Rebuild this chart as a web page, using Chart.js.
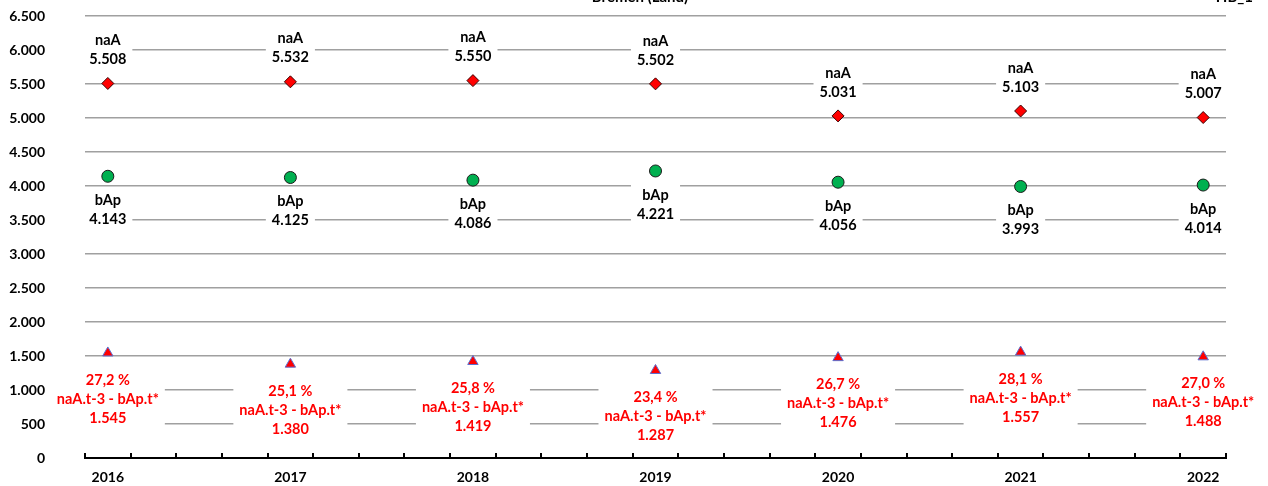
<!DOCTYPE html>
<html>
<head>
<meta charset="utf-8">
<script src="https://cdn.jsdelivr.net/npm/chart.js@4"></script>
<style>
  html, body { margin: 0; padding: 0; background: #fff; }
  #wrap { width: 1268px; height: 486px; position: relative; overflow: hidden; }
</style>
</head>
<body>
<div id="wrap"><canvas id="chart" width="1268" height="486"></canvas></div>
<script>
// Data
const years = [2016, 2017, 2018, 2019, 2020, 2021, 2022];
const naA = [5508, 5532, 5550, 5502, 5031, 5103, 5007];
const bAp = [4143, 4125, 4086, 4221, 4056, 3993, 4014];
const diff = [1545, 1380, 1419, 1287, 1476, 1557, 1488];
const diffPct = ['27,2 %', '25,1 %', '25,8 %', '23,4 %', '26,7 %', '28,1 %', '27,0 %'];
const diffName = 'naA.t-3 - bAp.t*';
const yTicks = [0, 500, 1000, 1500, 2000, 2500, 3000, 3500, 4000, 4500, 5000, 5500, 6000, 6500];
const titleText = 'Bremen (Land)';
const cornerText = 'HB_1';

const FONT = 'Lato, "Open Sans", sans-serif';

// 1234 -> "1.234"
function fmt(v) {
  return String(v).replace(/\B(?=(\d{3})+(?!\d))/g, '.');
}

function points(vals) {
  return years.map((x, i) => ({ x: x, y: vals[i] }));
}

// small tick marks on the x axis, pointing up into the plot
const axisTicks = {
  id: 'axisTicks',
  afterDatasetsDraw(chart) {
    const xs = chart.scales.x;
    const ctx = chart.ctx;
    const y = xs.top;
    ctx.save();
    ctx.strokeStyle = '#000';
    ctx.lineWidth = 2;
    ctx.beginPath();
    for (let v = xs.min; v <= xs.max + 1e-6; v += 0.25) {
      const px = Math.round(xs.getPixelForValue(v));
      ctx.moveTo(px, y + 1);
      ctx.lineTo(px, y - 5);
    }
    ctx.stroke();
    ctx.restore();
  }
};

// two-/three-line labels with white boxes over the gridlines
const pointLabels = {
  id: 'pointLabels',
  afterDatasetsDraw(chart) {
    const ctx = chart.ctx;
    ctx.save();
    ctx.font = 'bold 14.5px ' + FONT;
    ctx.textAlign = 'center';
    ctx.textBaseline = 'middle';
    chart.data.datasets.forEach((ds, di) => {
      const meta = chart.getDatasetMeta(di);
      meta.data.forEach((pt, i) => {
        const lines = ds.labelLines(i);
        const offs = ds.labelOffsets;
        let w = 0;
        lines.forEach(t => { w = Math.max(w, ctx.measureText(t).width); });
        const top = pt.y + offs[0] - 10;
        const bottom = pt.y + offs[offs.length - 1] + 10;
        ctx.fillStyle = '#fff';
        ctx.fillRect(pt.x - w / 2 - 6, top, w + 12, bottom - top);
        ctx.fillStyle = ds.labelColor;
        lines.forEach((t, k) => ctx.fillText(t, pt.x, pt.y + offs[k]));
      });
    });
    ctx.restore();
  }
};

// cut-off title and corner code at the very top
const topTexts = {
  id: 'topTexts',
  afterDraw(chart) {
    const ctx = chart.ctx;
    ctx.save();
    ctx.font = 'bold 15px ' + FONT;
    ctx.fillStyle = '#000';
    ctx.textBaseline = 'alphabetic';
    ctx.textAlign = 'center';
    ctx.fillText(titleText, 640, 2);
    ctx.textAlign = 'right';
    ctx.fillText(cornerText, 1253, 2);
    ctx.restore();
  }
};

new Chart(document.getElementById('chart'), {
  type: 'scatter',
  data: {
    datasets: [
      {
        label: 'naA',
        data: points(naA),
        pointStyle: 'rectRot',
        pointRadius: 6,
        pointHoverRadius: 6,
        backgroundColor: '#ff0000',
        borderColor: '#3a0000',
        borderWidth: 1,
        labelLines: i => ['naA', fmt(naA[i])],
        labelOffsets: [-43, -24],
        labelColor: '#000'
      },
      {
        label: 'bAp',
        data: points(bAp),
        pointStyle: 'circle',
        pointRadius: 6,
        pointHoverRadius: 6,
        backgroundColor: '#00b050',
        borderColor: '#1a1a1a',
        borderWidth: 1,
        labelLines: i => ['bAp', fmt(bAp[i])],
        labelOffsets: [24, 43],
        labelColor: '#000'
      },
      {
        label: diffName,
        data: points(diff),
        pointStyle: 'triangle',
        pointRadius: 6,
        pointHoverRadius: 6,
        backgroundColor: '#ff0000',
        borderColor: '#5b6fd0',
        borderWidth: 1,
        labelLines: i => [diffPct[i], diffName, fmt(diff[i])],
        labelOffsets: [27, 46, 65],
        labelColor: '#ff0000'
      }
    ]
  },
  options: {
    responsive: false,
    devicePixelRatio: 1,
    animation: false,
    layout: { padding: { left: 0, right: 42, top: 16, bottom: 0 } },
    plugins: {
      legend: { display: false },
      tooltip: { enabled: false },
      title: { display: false }
    },
    scales: {
      x: {
        type: 'linear',
        min: 2015.875,
        max: 2022.125,
        afterBuildTicks: s => { s.ticks = years.map(v => ({ value: v })); },
        afterFit: s => { s.height = 28; },
        ticks: {
          callback: v => String(v),
          color: '#000',
          font: { family: FONT, size: 14, weight: 'bold' },
          padding: 11,
          maxRotation: 0,
          autoSkip: false
        },
        grid: { display: false, drawTicks: false },
        border: { display: true, color: '#000', width: 2 }
      },
      y: {
        min: 0,
        max: 6500,
        afterBuildTicks: s => { s.ticks = yTicks.map(v => ({ value: v })); },
        afterFit: s => { s.width = 85; s.paddingTop = 0; s.paddingBottom = 0; },
        ticks: {
          callback: v => fmt(v),
          color: '#000',
          font: { family: FONT, size: 14, weight: 'bold' },
          padding: 40
        },
        grid: { color: '#a0a0a0', lineWidth: 1.5, drawTicks: false },
        border: { display: false }
      }
    }
  },
  plugins: [axisTicks, pointLabels, topTexts]
});
</script>
</body>
</html>
